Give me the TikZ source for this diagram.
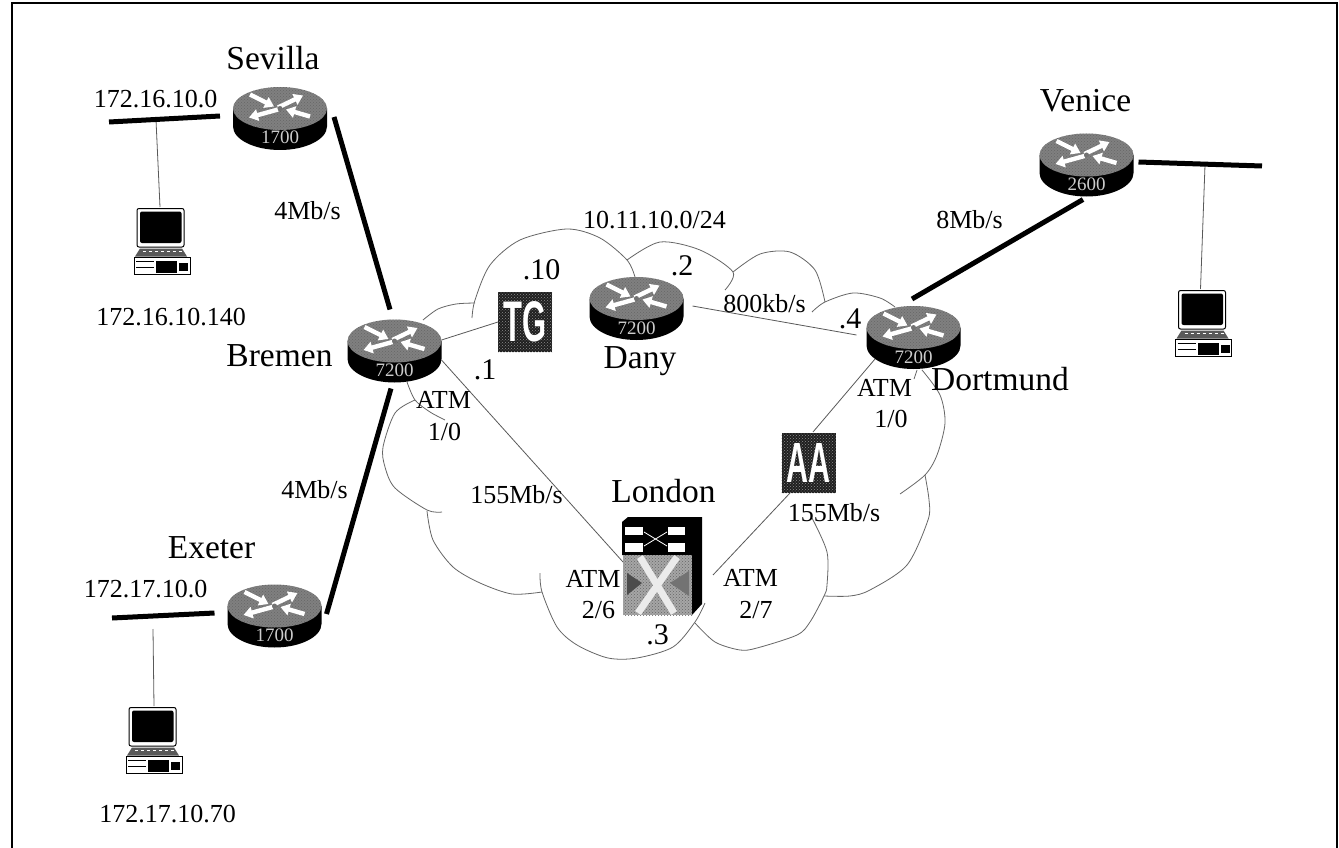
\documentclass[tikz,border=0pt]{standalone}
\usepackage{fontspec}
\usepackage{graphicx}
\setmainfont{Liberation Serif}
\setsansfont{Liberation Sans}
\usetikzlibrary{arrows.meta,patterns}
\tikzset{
  lbl/.style={font=\fontsize{26}{30}\selectfont,anchor=base,inner sep=0pt,text=black},
  namelbl/.style={font=\fontsize{33.5}{38}\selectfont,anchor=base,inner sep=0pt,text=black},
  dotlbl/.style={font=\fontsize{30}{34}\selectfont,anchor=base,inner sep=0pt,text=black},
  modelbl/.style={font=\fontsize{19}{22}\selectfont,anchor=base,inner sep=0pt,text=white!80!black},
  routerbox/.style={minimum width=94pt,minimum height=63pt,inner sep=0pt,outer sep=0pt},
  pcbox/.style={minimum width=57pt,minimum height=67pt,inner sep=0pt,outer sep=0pt},
  appbox/.style={minimum width=54pt,minimum height=60pt,inner sep=0pt,outer sep=0pt,fill=black!88,text=white,
     postaction={pattern=crosshatch dots,pattern color=black!45}},
  switchbox/.style={minimum width=80pt,minimum height=98pt,inner sep=0pt,outer sep=0pt},
  fatline/.style={line width=5pt,black},
  thinline/.style={line width=0.8pt,black!65},
  cloudline/.style={line width=0.8pt,black!60,smooth,tension=0.5},
  whitearrow/.style={white,line width=4.4pt,-{Triangle[length=9pt,width=11.5pt]}},
  frameline/.style={line width=1.1pt,black},
}
\newcommand{\router}[5]{%
  \node[routerbox] (#1) at (#2,#3) {};
  \begin{scope}[shift={(#1.center)}]
    \fill[black] (-47,-10) -- (-47,8) .. controls (-47,20.7) and (-26,31.5) .. (0,31.5)
       .. controls (26,31.5) and (47,20.7) .. (47,8) -- (47,-10) -- cycle;
    \fill[black!50] (0,-10) ellipse [x radius=47pt,y radius=21.5pt];
    \fill[pattern=crosshatch dots,pattern color=black!60] (0,-10) ellipse [x radius=47pt,y radius=21.5pt];
    \draw[whitearrow] (-2,-11) -- (23,-23);
    \draw[whitearrow] (-2,-9) -- (-31,-1);
    \draw[whitearrow] (-30,-24) -- (-6,-12);
    \draw[whitearrow] (30,-2) -- (6,-9);
    \fill[black!55] (0,-10) circle [radius=2.5pt];
  \end{scope}
  \node[modelbl] (#1model) at (#2,#3+#5) {#4};
}
\newcommand{\pc}[3]{%
  \node[pcbox] (#1) at (#2,#3) {};
  \begin{scope}[shift={(#1.center)}]
    \draw[black,line width=1pt,fill=white,rounded corners=2pt] (-25,-33) rectangle (22,5.5);
    \fill[black,rounded corners=2pt] (-22,-30) rectangle (19.5,1.5);
    \fill[black!65] (-22,7) -- (20,7) -- (25,15) -- (-27,15) -- cycle;
    \draw[white,line width=0.9pt,dashed] (-19,10) -- (20,10);
    \draw[black,line width=1pt,fill=white] (-28,15.5) rectangle (28,33);
    \fill[black] (-6,19) rectangle (15,31);
    \draw[black,line width=1pt] (-26,20) -- (-8,20) (-26,26) -- (-8,26);
    \fill[black] (17,21) rectangle (26,29);
  \end{scope}
}
\begin{document}
\begin{tikzpicture}[x=1pt,y=-1pt]
\useasboundingbox (0,0) rectangle (1339,848);
\fill[white] (0,0) rectangle (1339,848);
\draw[frameline] (12,848) -- (12,3) -- (1337,3) -- (1337,848);

% clouds
\draw[cloudline] plot coordinates {(423,320) (438,309) (456,304) (475,303)};
\draw[cloudline] plot coordinates {(472,318) (475,300) (490,265) (520,240) (567,229) (600,238) (627,260) (635,277)};
\draw[cloudline] plot coordinates {(627,260) (660,242) (700,250) (733,272) (725,290)};
\draw[cloudline] plot coordinates {(733,272) (760,254) (790,252) (815,270) (825,302)};
\draw[cloudline] plot coordinates {(812,312) (825,302) (853,293) (880,298) (895,307)};
\draw[cloudline] plot coordinates {(922,370) (940,395) (945,423) (937,455) (925,475) (900,494)};
\draw[cloudline] plot coordinates {(917,370) (914,379)};
\draw[cloudline] plot coordinates {(925,475) (929,500) (928,520) (907,565) (870,590) (850,596) (824,596)};
\draw[cloudline] plot coordinates {(812,518) (827,552) (827,585) (824,596) (810,622) (797,635) (757,648) (740,650) (715,642) (695,623)};
\draw[cloudline] plot coordinates {(705,603) (695,622) (673,647) (637,658) (608,658) (577,645) (557,627) (542,592) (540,573)};
\draw[cloudline] plot coordinates {(542,592) (512,594) (480,583) (453,567) (433,540) (427,511)};
\draw[cloudline] plot coordinates {(442,512) (427,510) (395,488) (385,467) (383,447) (395,413) (415,400)};
\draw[cloudline] plot coordinates {(407,382) (415,400) (430,412) (445,420)};

% devices
\router{sevilla}{280}{118.5}{1700}{25.5}
\router{bremen}{394.5}{351}{7200}{25.5}
\router{exeter}{274.5}{616}{1700}{25.5}
\router{dany}{636.5}{308.5}{7200}{25.5}
\router{dortmund}{913.5}{337.5}{7200}{25.5}
\router{venice}{1086.5}{165}{2600}{25.5}

\pc{pcsevilla}{162}{241.5}
\pc{pcexeter}{154}{740.5}
\pc{pcvenice}{1203.5}{323.5}

\node[appbox] (tg) at (525,322) {\resizebox{43pt}{40pt}{\sffamily\bfseries TG}};
\node[appbox] (aa) at (808.5,463) {\resizebox{44pt}{39pt}{\sffamily\bfseries AA}};

% London switch
\node[switchbox] (london) at (662,566) {};
\begin{scope}[shift={(london.center)}]
  \fill[black] (-40,-44) -- (-34,-49) -- (40,-49) -- (40,38) -- (30,49) -- (30,-11) -- (-40,-11) -- cycle;
  \fill[black!35] (-39,-11) rectangle (30,49);
  \fill[pattern=crosshatch dots,pattern color=black!60] (-39,-11) rectangle (30,49);
  \draw[white!92!black,line width=7pt] (-22,-9) -- (12,47);
  \draw[white!92!black,line width=7pt] (15,-9) -- (-24,47);
  \fill[black!70] (-35,7) -- (-20,17) -- (-35,29) -- cycle;
  \fill[black!55] (27,5) -- (8,17) -- (27,30) -- cycle;
  \fill[white] (-37,-39) rectangle (-19,-31);
  \fill[white] (6,-39) rectangle (23,-31);
  \fill[white] (-37,-23) rectangle (-19,-14);
  \fill[white] (6,-23) rectangle (23,-14);
  \draw[white,line width=0.8pt] (-18,-20) -- (5,-34) (-18,-34) -- (5,-20);
\end{scope}

% LAN tap points
\coordinate (lansevilla) at (109,122);
\coordinate (tapsevilla) at (156,120);
\coordinate (lanexeter) at (112,618);
\coordinate (tapexeter) at (153,629);
\coordinate (lanvenice) at (1262,166);
\coordinate (tapvenice) at (1205,165);

% connectors
\draw[thinline] (tapsevilla) -- ([shift={(-2,-1)}]pcsevilla.north);
\draw[thinline] (tapexeter) -- ([shift={(0,-1)}]pcexeter.north);
\draw[thinline] (tapvenice) -- ([shift={(-3,-1)}]pcvenice.north);
\draw[fatline] ([shift={(-13,-2.5)}]sevilla.west) -- (lansevilla);
\draw[fatline] ([shift={(-13,-3)}]exeter.west) -- (lanexeter);
\draw[fatline] ([shift={(5,-3)}]venice.east) -- (lanvenice);
\draw[fatline] ([shift={(7,-1.5)}]sevilla.east) -- ([shift={(-4.5,-10)}]bremen.north);
\draw[fatline] ([shift={(-3.5,6)}]bremen.south) -- ([shift={(5,-2)}]exeter.east);
\draw[fatline] ([shift={(-1.5,-7)}]dortmund.north) -- ([shift={(-3.5,3)}]venice.south);
\draw[thinline] ([shift={(0,-11)}]bremen.east) -- (tg.west);
\draw[thinline] ([shift={(0,9)}]bremen.east) -- ([shift={(1,-4)}]london.west);
\draw[thinline] ([shift={(11,9)}]london.east) -- ([shift={(-18.5,0)}]aa.south);
\draw[thinline] ([shift={(4.5,-1)}]aa.north) -- ([shift={(-38.5,-10)}]dortmund.south);
\draw[thinline] ([shift={(9,-2.5)}]dany.east) -- ([shift={(-10,-2.5)}]dortmund.west);

% labels
\node[namelbl] (tsevilla) at (273,70) {Sevilla};
\node[lbl] (tnet1) at (155.5,108) {172.16.10.0};
\node[lbl] (tbw1) at (307.5,219) {4Mb/s};
\node[lbl] (thost1) at (171,325) {172.16.10.140};
\node[namelbl] (tbremen) at (279.5,366) {Bremen};
\node[lbl] (tbw2) at (314.5,498) {4Mb/s};
\node[namelbl] (texeter) at (211.5,558) {Exeter};
\node[lbl] (tnet2) at (145.5,597) {172.17.10.0};
\node[lbl] (thost2) at (167.5,822) {172.17.10.70};
\node[lbl] (tsubnet) at (654.5,228) {10.11.10.0/24};
\node[dotlbl] (tdot10) at (541.5,279) {.10};
\node[dotlbl] (tdot2) at (682,275) {.2};
\node[dotlbl] (tdot1) at (485,379) {.1};
\node[namelbl] (tdany) at (640,368) {Dany};
\node[lbl] (tbw3) at (764.5,312) {800kb/s};
\node[dotlbl] (tdot4) at (850,328) {.4};
\node[namelbl] (tdortmund) at (1000,390) {Dortmund};
\node[lbl] (tatma) at (884.5,396) {ATM};
\node[lbl] (tatmb) at (891,427) {1/0};
\node[lbl] (tatmc) at (443.5,408) {ATM};
\node[lbl] (tatmd) at (444.5,440) {1/0};
\node[lbl] (tbw4) at (516.5,503) {155Mb/s};
\node[namelbl] (tlondon) at (663.5,502) {London};
\node[lbl] (tatme) at (593,587) {ATM};
\node[lbl] (tatmf) at (598.5,618) {2/6};
\node[dotlbl] (tdot3) at (657.5,644) {.3};
\node[lbl] (tatmg) at (750.5,586) {ATM};
\node[lbl] (tatmh) at (756,618) {2/7};
\node[lbl] (tbw5) at (834,521) {155Mb/s};
\node[lbl] (tbw6) at (969.5,228) {8Mb/s};
\node[namelbl] (tvenice) at (1085.5,112) {Venice};
\end{tikzpicture}
\end{document}
